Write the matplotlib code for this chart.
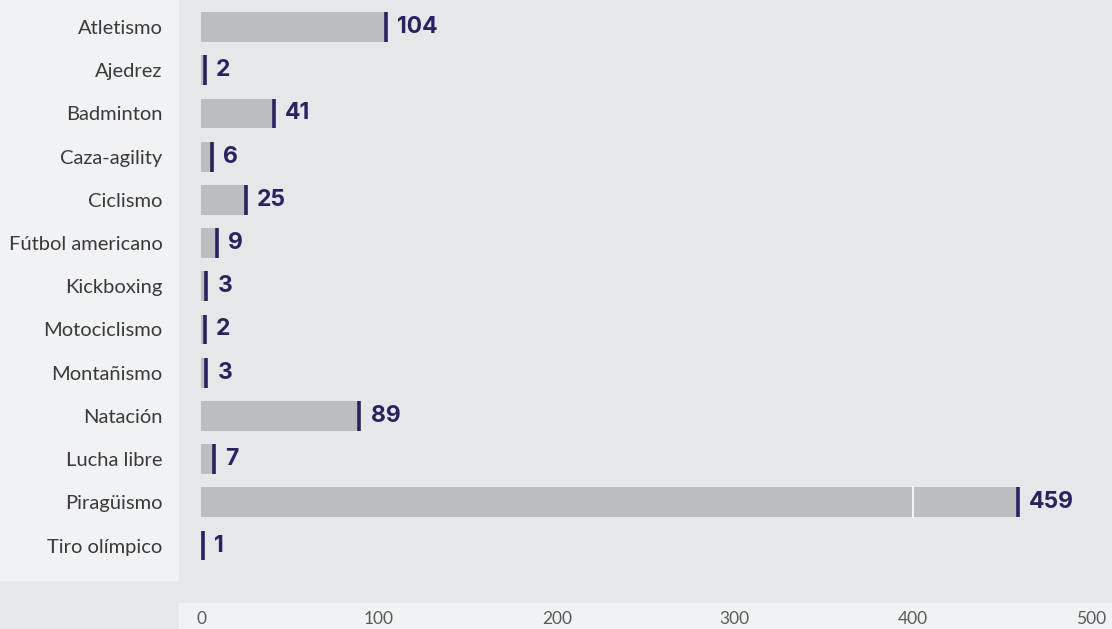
import matplotlib.pyplot as plt
from matplotlib.patches import Rectangle

# Datos
deportes = ['Atletismo', 'Ajedrez', 'Badminton', 'Caza-agility', 'Ciclismo',
            'Fútbol americano', 'Kickboxing', 'Motociclismo', 'Montañismo',
            'Natación', 'Lucha libre', 'Piragüismo', 'Tiro olímpico']
valores = [104, 2, 41, 6, 25, 9, 3, 2, 3, 89, 7, 459, 1]
ticks_x = [0, 100, 200, 300, 400, 500]

# Colores
fondo = '#e6e7e9'
claro = '#f1f2f4'
gris_barra = '#bcbdc0'
azul = '#27235e'

W, H = 1112, 629
fig = plt.figure(figsize=(W / 100, H / 100), dpi=100, facecolor=fondo)

# paneles claros (izquierda y banda inferior), detras de los ejes
fig.patches.append(Rectangle((0, (H - 580) / H), 179 / W, 580 / H,
                             transform=fig.transFigure, color=claro, zorder=-5))
fig.patches.append(Rectangle((179 / W, 0), (W - 179) / W, (H - 603) / H,
                             transform=fig.transFigure, color=claro, zorder=-5))

ax = fig.add_axes([179 / W, (H - 603) / H, (W - 179) / W, 603 / H])
ax.set_facecolor(fondo)

y = list(range(len(deportes)))
alto = 0.69
ax.barh(y, valores, height=alto, color=gris_barra, zorder=2)

for yi, v in zip(y, valores):
    # linea blanca en 400 solo sobre las barras que la cruzan
    if v > 400:
        ax.plot([400, 400], [yi - alto / 2, yi + alto / 2], color='white', lw=1.2, zorder=3)
    # marcador al final de la barra
    ax.plot([v, v], [yi - alto / 2, yi + alto / 2], color=azul, lw=2.6,
            solid_capstyle='butt', zorder=4)
    ax.annotate(str(v), (v, yi), xytext=(8, 0), textcoords='offset points',
                va='center', ha='left', fontsize=16.5, fontweight='bold',
                color=azul, family=['Inter', 'DejaVu Sans'])

ax.set_xlim(-12.4, 512)
ax.set_ylim(13.33, -0.625)
ax.set_yticks(y)
ax.set_yticklabels(deportes, fontsize=14.5, color='#3a3a3a',
                   family=['Lato', 'DejaVu Sans'])
ax.set_xticks(ticks_x)
ax.set_xticklabels([str(t) for t in ticks_x], fontsize=12.5,
                   color='#5a5a5a', family=['Lato', 'DejaVu Sans'])
ax.tick_params(axis='y', length=0, pad=12)
ax.tick_params(axis='x', length=0, pad=6)
for s in ax.spines.values():
    s.set_visible(False)

plt.savefig('out.png', dpi=100, facecolor=fondo)
